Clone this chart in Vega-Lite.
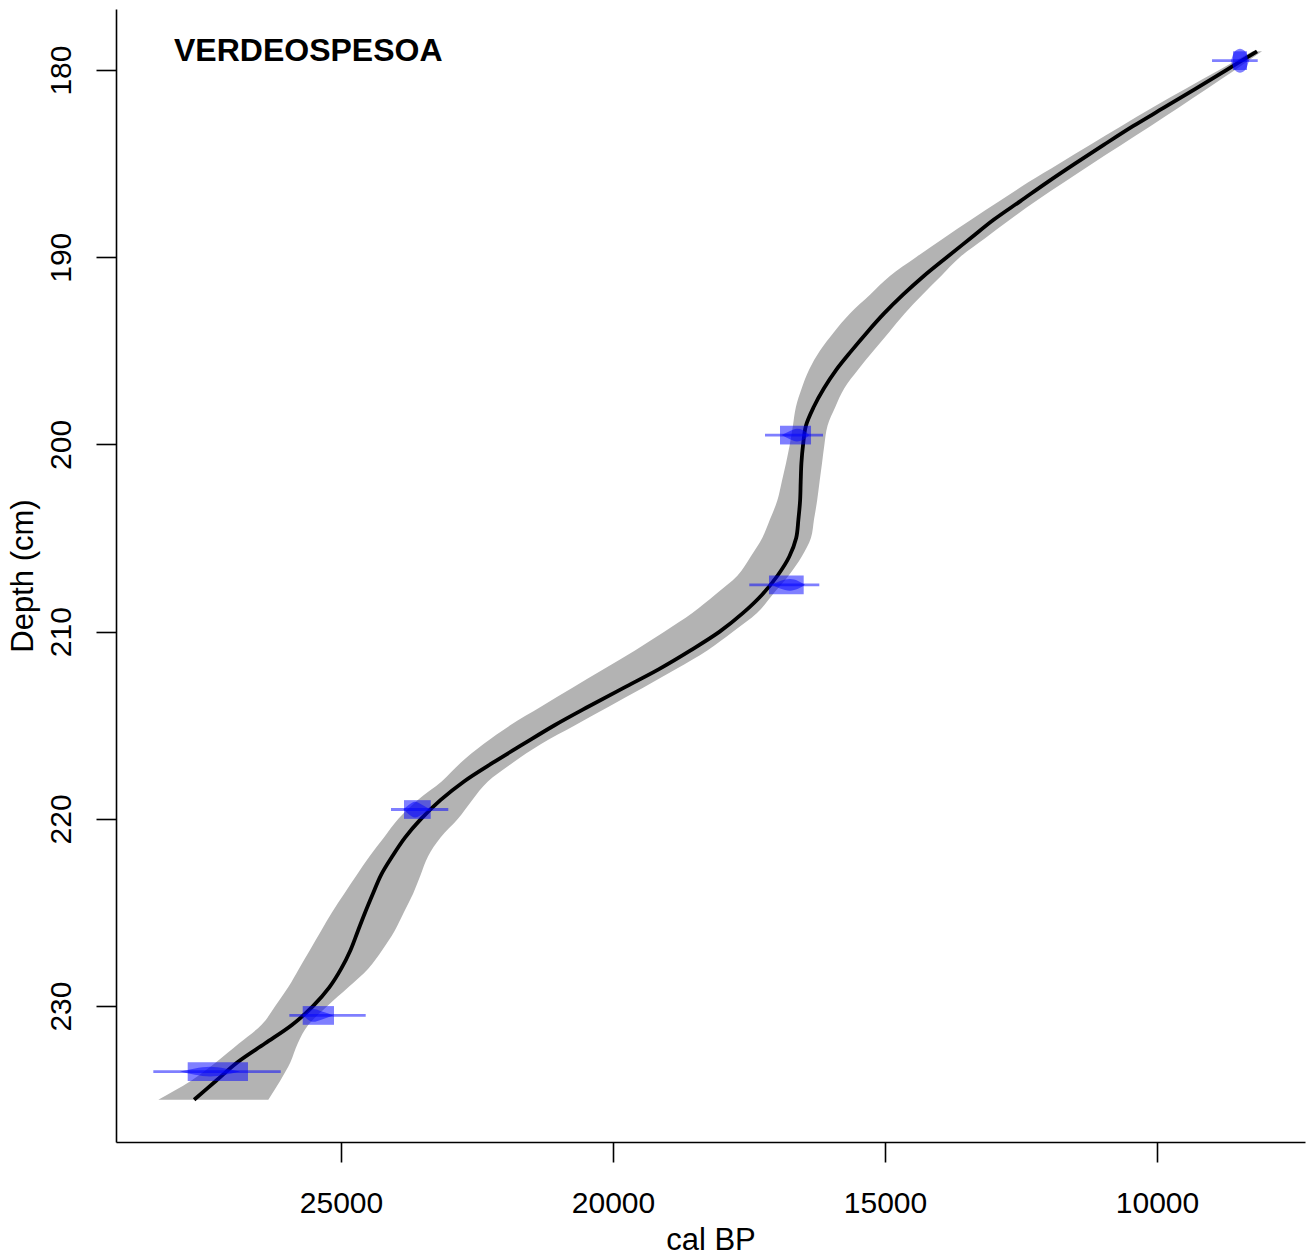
{
  "$schema": "https://vega.github.io/schema/vega-lite/v6.json",
  "width": 1189,
  "height": 1133,
  "autosize": {"type": "none"},
  "padding": {"left": 116, "top": 9, "right": 9, "bottom": 114},
  "background": "white",
  "config": {
    "view": {"stroke": null},
    "font": "Liberation Sans",
    "axis": {
      "grid": false,
      "domainColor": "black",
      "domainWidth": 1.6,
      "tickColor": "black",
      "tickWidth": 1.6,
      "tickSize": 20,
      "labelColor": "black",
      "labelFont": "Liberation Sans",
      "labelFontSize": 30,
      "titleFont": "Liberation Sans",
      "titleFontSize": 31,
      "titleFontWeight": "normal",
      "titleColor": "black",
      "labelOverlap": false,
      "labelFlush": false
    }
  },
  "datasets": {
    "model": [
      {"depth": 179, "lo": 8241, "hi": 8070, "med": 8162},
      {"depth": 180, "lo": 8857, "hi": 8566, "med": 8726},
      {"depth": 181, "lo": 9473, "hi": 9081, "med": 9294},
      {"depth": 182, "lo": 10081, "hi": 9598, "med": 9866},
      {"depth": 183, "lo": 10660, "hi": 10123, "med": 10442},
      {"depth": 184, "lo": 11234, "hi": 10658, "med": 10980},
      {"depth": 185, "lo": 11802, "hi": 11193, "med": 11508},
      {"depth": 186, "lo": 12368, "hi": 11708, "med": 12020},
      {"depth": 187, "lo": 12894, "hi": 12224, "med": 12511},
      {"depth": 188, "lo": 13419, "hi": 12706, "med": 13004},
      {"depth": 189, "lo": 13930, "hi": 13166, "med": 13434},
      {"depth": 190, "lo": 14430, "hi": 13625, "med": 13864},
      {"depth": 191, "lo": 14910, "hi": 13969, "med": 14287},
      {"depth": 192, "lo": 15276, "hi": 14313, "med": 14669},
      {"depth": 193, "lo": 15644, "hi": 14638, "med": 15017},
      {"depth": 194, "lo": 15940, "hi": 14925, "med": 15327},
      {"depth": 195, "lo": 16197, "hi": 15212, "med": 15618},
      {"depth": 196, "lo": 16394, "hi": 15493, "med": 15894},
      {"depth": 197, "lo": 16531, "hi": 15748, "med": 16122},
      {"depth": 198, "lo": 16638, "hi": 15914, "med": 16311},
      {"depth": 199, "lo": 16693, "hi": 16057, "med": 16454},
      {"depth": 200, "lo": 16750, "hi": 16114, "med": 16506},
      {"depth": 201, "lo": 16820, "hi": 16158, "med": 16537},
      {"depth": 202, "lo": 16899, "hi": 16204, "med": 16550},
      {"depth": 203, "lo": 16980, "hi": 16248, "med": 16561},
      {"depth": 204, "lo": 17114, "hi": 16305, "med": 16592},
      {"depth": 205, "lo": 17257, "hi": 16362, "med": 16633},
      {"depth": 206, "lo": 17471, "hi": 16533, "med": 16761},
      {"depth": 207, "lo": 17710, "hi": 16770, "med": 16974},
      {"depth": 208, "lo": 18112, "hi": 17061, "med": 17252},
      {"depth": 209, "lo": 18542, "hi": 17353, "med": 17609},
      {"depth": 210, "lo": 19057, "hi": 17796, "med": 18039},
      {"depth": 211, "lo": 19596, "hi": 18267, "med": 18574},
      {"depth": 212, "lo": 20167, "hi": 18840, "med": 19154},
      {"depth": 213, "lo": 20745, "hi": 19447, "med": 19805},
      {"depth": 214, "lo": 21318, "hi": 20072, "med": 20449},
      {"depth": 215, "lo": 21890, "hi": 20697, "med": 21074},
      {"depth": 216, "lo": 22380, "hi": 21322, "med": 21645},
      {"depth": 217, "lo": 22800, "hi": 21842, "med": 22208},
      {"depth": 218, "lo": 23150, "hi": 22300, "med": 22739},
      {"depth": 219, "lo": 23594, "hi": 22590, "med": 23173},
      {"depth": 220, "lo": 23945, "hi": 22850, "med": 23529},
      {"depth": 221, "lo": 24210, "hi": 23170, "med": 23824},
      {"depth": 222, "lo": 24474, "hi": 23399, "med": 24057},
      {"depth": 223, "lo": 24711, "hi": 23537, "med": 24265},
      {"depth": 224, "lo": 24941, "hi": 23675, "med": 24414},
      {"depth": 225, "lo": 25167, "hi": 23846, "med": 24557},
      {"depth": 226, "lo": 25370, "hi": 24018, "med": 24691},
      {"depth": 227, "lo": 25570, "hi": 24241, "med": 24824},
      {"depth": 228, "lo": 25772, "hi": 24500, "med": 24996},
      {"depth": 229, "lo": 25971, "hi": 24866, "med": 25215},
      {"depth": 230, "lo": 26208, "hi": 25250, "med": 25515},
      {"depth": 231, "lo": 26460, "hi": 25600, "med": 25897},
      {"depth": 232, "lo": 26877, "hi": 25796, "med": 26399},
      {"depth": 233, "lo": 27296, "hi": 25930, "med": 26903},
      {"depth": 234, "lo": 27763, "hi": 26120, "med": 27301},
      {"depth": 235, "lo": 28358, "hi": 26336, "med": 27700}
    ],
    "dates": [
      {"id": "A", "depth": 179.5, "dtop": 179, "dbot": 180, "rold": 8603, "ryoung": 8346, "old": 8989, "young": 8149},
      {"id": "B", "depth": 199.5, "dtop": 199, "dbot": 200, "rold": 16930, "ryoung": 16360, "old": 17206, "young": 16140},
      {"id": "C", "depth": 207.5, "dtop": 207, "dbot": 208, "rold": 17133, "ryoung": 16495, "old": 17495, "young": 16208},
      {"id": "D", "depth": 219.5, "dtop": 219, "dbot": 220, "rold": 23842, "ryoung": 23351, "old": 24081, "young": 23028},
      {"id": "E", "depth": 230.5, "dtop": 230, "dbot": 231, "rold": 25704, "ryoung": 25129, "old": 25950, "young": 24546},
      {"id": "F", "depth": 233.5, "dtop": 233, "dbot": 234, "rold": 27818, "ryoung": 26710, "old": 28450, "young": 26108}
    ],
    "lens": [
      {"id": "A", "age": 8640, "top": 179.5, "bot": 179.5},
      {"id": "A", "age": 8570, "top": 179.0, "bot": 180.0},
      {"id": "A", "age": 8475, "top": 178.86, "bot": 180.14},
      {"id": "A", "age": 8380, "top": 179.0, "bot": 180.0},
      {"id": "A", "age": 8310, "top": 179.5, "bot": 179.5},
      {"id": "B", "age": 16899, "top": 199.5, "bot": 199.5},
      {"id": "B", "age": 16746, "top": 199.28, "bot": 199.72},
      {"id": "B", "age": 16618, "top": 199.16, "bot": 199.84},
      {"id": "B", "age": 16507, "top": 199.24, "bot": 199.76},
      {"id": "B", "age": 16392, "top": 199.5, "bot": 199.5},
      {"id": "C", "age": 17083, "top": 207.5, "bot": 207.5},
      {"id": "C", "age": 16930, "top": 207.3, "bot": 207.7},
      {"id": "C", "age": 16746, "top": 207.19, "bot": 207.81},
      {"id": "C", "age": 16599, "top": 207.29, "bot": 207.71},
      {"id": "C", "age": 16471, "top": 207.5, "bot": 207.5},
      {"id": "D", "age": 23855, "top": 219.5, "bot": 219.5},
      {"id": "D", "age": 23750, "top": 219.24, "bot": 219.76},
      {"id": "D", "age": 23640, "top": 219.08, "bot": 219.92},
      {"id": "D", "age": 23511, "top": 219.24, "bot": 219.76},
      {"id": "D", "age": 23364, "top": 219.5, "bot": 219.5},
      {"id": "E", "age": 25693, "top": 230.5, "bot": 230.5},
      {"id": "E", "age": 25607, "top": 230.27, "bot": 230.73},
      {"id": "E", "age": 25515, "top": 230.16, "bot": 230.84},
      {"id": "E", "age": 25349, "top": 230.29, "bot": 230.71},
      {"id": "E", "age": 25142, "top": 230.5, "bot": 230.5},
      {"id": "F", "age": 27960, "top": 233.5, "bot": 233.5},
      {"id": "F", "age": 27684, "top": 233.33, "bot": 233.67},
      {"id": "F", "age": 27408, "top": 233.24, "bot": 233.76},
      {"id": "F", "age": 27132, "top": 233.33, "bot": 233.67},
      {"id": "F", "age": 26857, "top": 233.5, "bot": 233.5}
    ],
    "label": [
      {"name": "VERDEOSPESOA", "age": 28070, "depth": 179.5}
    ]
  },
  "layer": [
    {
      "data": {"name": "model"},
      "mark": {"type": "area", "orient": "horizontal", "color": "#b3b3b3", "opacity": 1, "interpolate": "monotone"},
      "encoding": {
        "y": {
          "field": "depth", "type": "quantitative",
          "scale": {"domain": [176.74, 237.26], "reverse": true, "nice": false, "zero": false},
          "axis": {
            "title": "Depth (cm)",
            "values": [180, 190, 200, 210, 220, 230],
            "labelAngle": 270,
            "labelAlign": "center",
            "labelBaseline": "alphabetic",
            "labelPadding": 26,
            "titleAngle": 270,
            "titleBaseline": "alphabetic",
            "titleAlign": "center",
            "titleX": -84,
            "titleY": 566.5
          }
        },
        "x": {
          "field": "lo", "type": "quantitative",
          "scale": {"domain": [7280, 29136], "reverse": true, "nice": false, "zero": false},
          "axis": {
            "title": "cal BP",
            "values": [10000, 15000, 20000, 25000],
            "format": "d",
            "labelBaseline": "alphabetic",
            "labelPadding": 50,
            "titleBaseline": "alphabetic",
            "titleY": 107
          }
        },
        "x2": {"field": "hi"}
      }
    },
    {
      "data": {"name": "model"},
      "mark": {"type": "line", "color": "black", "strokeWidth": 3.8, "interpolate": "catmull-rom"},
      "encoding": {
        "x": {"field": "med", "type": "quantitative"},
        "y": {"field": "depth", "type": "quantitative"},
        "order": {"field": "depth", "type": "quantitative"}
      }
    },
    {
      "data": {"name": "dates"},
      "mark": {"type": "rect", "color": "#0000ff", "opacity": 0.5},
      "encoding": {
        "x": {"field": "rold", "type": "quantitative"},
        "x2": {"field": "ryoung"},
        "y": {"field": "dtop", "type": "quantitative"},
        "y2": {"field": "dbot"}
      }
    },
    {
      "data": {"name": "dates"},
      "mark": {"type": "rule", "color": "#0000ff", "opacity": 0.5, "strokeWidth": 2.8},
      "encoding": {
        "x": {"field": "old", "type": "quantitative"},
        "x2": {"field": "young"},
        "y": {"field": "depth", "type": "quantitative"}
      }
    },
    {
      "data": {"name": "lens"},
      "mark": {"type": "area", "orient": "vertical", "color": "#0000ff", "opacity": 0.5, "interpolate": "monotone"},
      "encoding": {
        "x": {"field": "age", "type": "quantitative"},
        "y": {"field": "top", "type": "quantitative"},
        "y2": {"field": "bot"},
        "detail": {"field": "id"}
      }
    },
    {
      "data": {"name": "label"},
      "mark": {"type": "text", "align": "left", "baseline": "alphabetic", "font": "Liberation Sans", "fontSize": 32, "fontWeight": "bold", "color": "black"},
      "encoding": {
        "x": {"field": "age", "type": "quantitative"},
        "y": {"field": "depth", "type": "quantitative"},
        "text": {"field": "name"}
      }
    }
  ]
}
